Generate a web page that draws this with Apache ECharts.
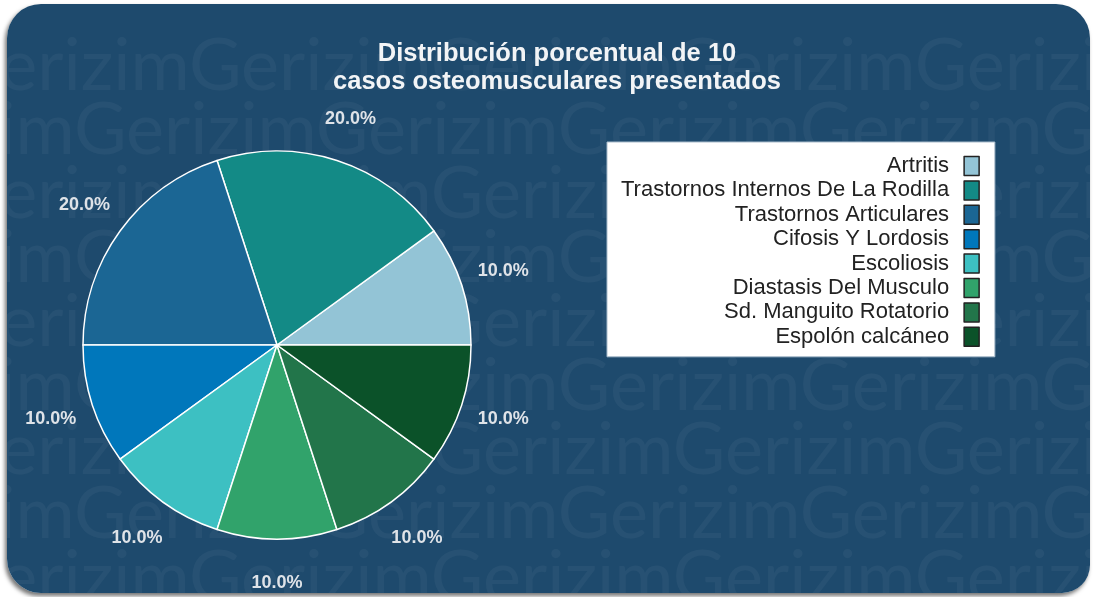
<!DOCTYPE html>
<html>
<head>
<meta charset="utf-8">
<script src="https://cdn.jsdelivr.net/npm/echarts@6/dist/echarts.min.js"></script>
<style>
html,body{margin:0;padding:0;background:#fff;width:1094px;height:597px;overflow:hidden;}
#chart{position:absolute;left:7px;top:4px;width:1083px;height:589px;border-radius:34px 34px 28px 34px;overflow:hidden;box-shadow:-2px 3px 4px rgba(0,0,0,0.55);}
</style>
</head>
<body>
<div id="chart"></div>
<script>
var titleLines = ['Distribución porcentual de 10', 'casos osteomusculares presentados'];
var categories = ['Artritis', 'Trastornos Internos De La Rodilla', 'Trastornos Articulares', 'Cifosis Y Lordosis', 'Escoliosis', 'Diastasis Del Musculo', 'Sd. Manguito Rotatorio', 'Espolón calcáneo'];
var values = [10, 20, 20, 10, 10, 10, 10, 10];
var colors = ['#93c4d6', '#138a86', '#1b6694', '#0077bb', '#3dc0c2', '#31a36b', '#22754a', '#0b5229'];
var watermarkWord = 'Gerizim';

var chart = echarts.init(document.getElementById('chart'));

var wm = [];
var rowStep = 64;
for (var k = 0; k < 10; k++) {
  var y = 27 + k * rowStep;
  var x0 = (k % 2 === 0) ? -60 : -175;
  wm.push({
    type: 'text', silent: true, z: 0,
    style: {
      text: new Array(8).join(watermarkWord),
      x: x0, y: y,
      font: '72px Lato, "Open Sans", sans-serif',
      fill: 'rgba(255,255,255,0.045)',
      textVerticalAlign: 'alphabetic'
    }
  });
}

var mainData = categories.map(function (c, i) {
  return { name: c, value: values[i], itemStyle: { color: colors[i] } };
});
var ghostData = categories.map(function (c, i) {
  return { name: c, value: values[i], itemStyle: { color: 'rgba(0,0,0,0)' } };
});

chart.setOption({
  backgroundColor: '#1e4a6d',
  animation: false,
  graphic: wm,
  title: {
    text: titleLines.join('\n'),
    left: 545, top: 31, textAlign: 'center',
    textStyle: { color: '#f2f4f6', fontSize: 25.5, fontWeight: 'bold', fontFamily: '"Liberation Sans", Arial, sans-serif', lineHeight: 28 }
  },
  legend: {
    orient: 'vertical', align: 'right',
    left: 600, top: 138,
    backgroundColor: '#ffffff', borderColor: '#a9bccc', borderWidth: 1,
    padding: [13, 15, 9, 14],
    itemWidth: 15, itemHeight: 19, itemGap: 2.4,
    icon: 'rect',
    itemStyle: { borderColor: '#222', borderWidth: 1.5 },
    textStyle: { color: '#222', fontSize: 22, fontFamily: '"Liberation Sans", Arial, sans-serif', padding: [0, 10, 0, 0] },
    data: categories,
    selectedMode: false
  },
  series: [
    {
      type: 'pie', name: 'main',
      center: [270, 341], radius: 194,
      startAngle: 0, clockwise: false,
      label: { show: false }, labelLine: { show: false },
      itemStyle: { borderColor: '#ffffff', borderWidth: 1.5 },
      emphasis: { disabled: true },
      data: mainData, z: 3
    },
    {
      type: 'pie', name: 'labels',
      center: [270, 341], radius: [225, 245],
      startAngle: 0, clockwise: false, silent: true,
      itemStyle: { borderWidth: 0 },
      label: {
        show: true, position: 'inside',
        color: '#dfe3e8', fontSize: 18, fontWeight: 'bold',
        fontFamily: '"Liberation Sans", Arial, sans-serif',
        formatter: function (p) { return p.percent.toFixed(1) + '%'; }
      },
      labelLine: { show: false },
      emphasis: { disabled: true },
      data: ghostData, z: 3
    }
  ]
});
</script>
</body>
</html>
